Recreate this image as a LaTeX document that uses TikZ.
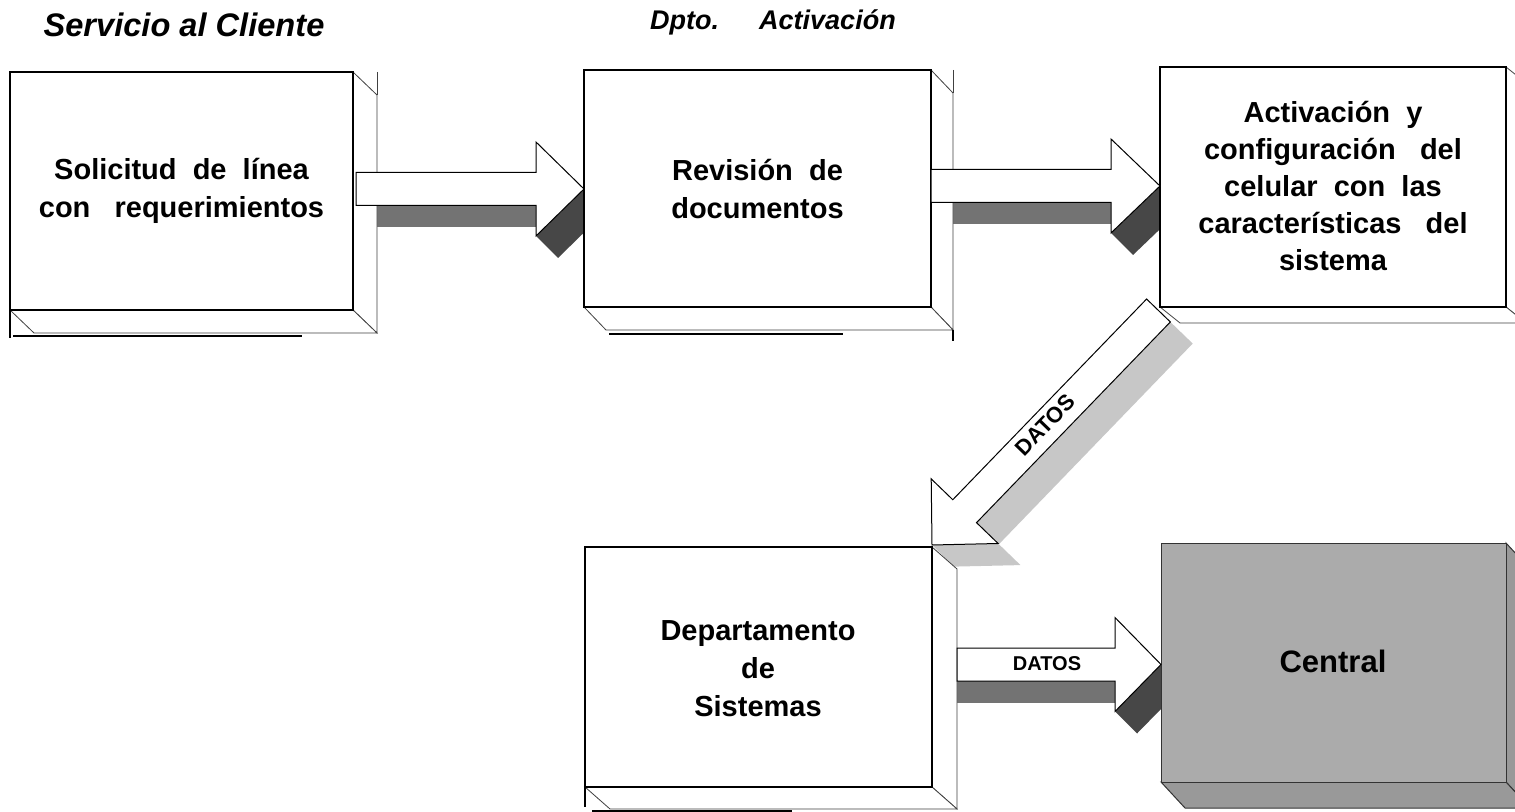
\documentclass[tikz,border=0pt]{standalone}
\usepackage{fontspec}
\setmainfont{Liberation Sans}

\begin{document}
\begin{tikzpicture}[x=0.5pt,y=-0.5pt,
		slabfront/.style={draw=black,line width=1pt,fill=white},
		slabside/.style={draw=black!75,line width=0.4pt,fill=white},
		rim/.style={line width=1.4pt},
		arrowface/.style={draw=black,line width=0.5pt,fill=white},
		stripfill/.style={fill=black!55},
		headfill/.style={fill=black!72},
		diagfill/.style={fill=black!22},
		centralfill/.style={fill=black!33,draw=black!80,line width=0.5pt},
		boxtext/.style={font=\bfseries\fontsize{14.5}{19}\selectfont,align=center},
		headtext/.style={font=\bfseries\itshape\fontsize{16.3}{20}\selectfont}]
			\useasboundingbox (0,0) rectangle (1515,812);
			% shading of the block arrows
			\foreach \xa/\xb/\xt/\yc in {356/536/584/189, 931/1111/1160/186, 957/1115/1161/664.5}{
				\fill[stripfill] (\xa,\yc+16.5) rectangle (\xb,\yc+38.5);
				\fill[headfill] (\xb,\yc+47) -- (\xt,\yc) -- (\xt+22,\yc+22) -- (\xb+22,\yc+69) -- cycle;
			}
			\begin{scope}[shift={(932,545)},rotate=46]
				\fill[diagfill] (47,16.5) -- (326,16.5) -- (326,47.6) -- (47,47.6) -- cycle;
				\fill[diagfill] (47,46.5) -- (0,0) -- (0,31.1) -- (47,77.6) -- cycle;
			\end{scope}
			% Solicitud
			\draw[slabside] (353,72) -- (377,95) -- (377,333) -- (353,310) -- cycle;
			\draw[slabside] (10,310) -- (34,333) -- (377,333) -- (353,310) -- cycle;
			\draw[slabfront] (10,72) rectangle (353,310);
			\draw[rim] (10,310) -- (10,338);
			\draw[rim] (13,336) -- (302,336);
			\draw[slabside] (377,72) -- (377,95);
			% Revision
			\draw[slabside] (931,70) -- (953,93) -- (953,330) -- (931,307) -- cycle;
			\draw[slabside] (584,307) -- (606,330) -- (953,330) -- (931,307) -- cycle;
			\draw[slabfront] (584,70) rectangle (931,307);
			\draw[rim] (609,334) -- (843,334);
			\draw[slabside] (953,70) -- (953,93);
			\draw[rim] (953,330) -- (953,341);
			% Activacion
			\draw[slabside] (1506,67) -- (1526,83) -- (1526,323) -- (1506,307) -- cycle;
			\draw[slabside] (1160,307) -- (1180,323) -- (1526,323) -- (1506,307) -- cycle;
			\draw[slabfront] (1160,67) rectangle (1506,307);
			% Departamento de Sistemas
			\draw[slabside] (932,547) -- (957,569) -- (957,809) -- (932,787) -- cycle;
			\draw[slabside] (585,787) -- (610,809) -- (957,809) -- (932,787) -- cycle;
			\draw[slabfront] (585,547) rectangle (932,787);
			\draw[rim] (585,787) -- (585,807);
			\draw[rim] (592,811) -- (792,811);
			% Central
			\draw[centralfill,fill=black!40] (1506,543) -- (1530,569) -- (1530,808) -- (1506,782) -- cycle;
			\draw[centralfill,fill=black!40] (1161,782) -- (1185,808) -- (1530,808) -- (1506,782) -- cycle;
			\draw[centralfill] (1161,543) rectangle (1506,782);
			% block arrows
			\foreach \xa/\xb/\xt/\yc in {356/536/584/189, 931/1111/1160/186, 957/1115/1161/664.5}{
				\draw[arrowface] (\xa,\yc-16.5) -- (\xb,\yc-16.5) -- (\xb,\yc-47) -- (\xt,\yc) -- (\xb,\yc+47) -- (\xb,\yc+16.5) -- (\xa,\yc+16.5) -- cycle;
			}
			\begin{scope}[shift={(932,545)},rotate=46]
				\draw[arrowface] (0,0) -- (47,-46.5) -- (47,-16.5) -- (326,-16.5) -- (326,16.5) -- (47,16.5) -- (47,46.5) -- cycle;
			\end{scope}
			% texts
			\node[headtext] (servicio) at (184,25) {Servicio al Cliente};
			\node[font=\bfseries\itshape\fontsize{13.5}{16}\selectfont] (dpto) at (773,22) {Dpto.\hspace{20pt}Activación};
			\node[boxtext] (solicitud) at (181.5,191) {Solicitud~~de~~línea\\con~~~requerimientos};
			\node[boxtext] (revision) at (757.5,189) {Revisión~~de\\documentos};
			\node[boxtext,font=\bfseries\fontsize{14.5}{18.5}\selectfont] (activacion) at (1333,186) {Activación~~y\\configuración~~~del\\celular~~con~~las\\características~~~del\\sistema};
			\node[boxtext] (sistemas) at (758,669) {Departamento\\de\\Sistemas};
			\node[font=\bfseries\fontsize{15.5}{18}\selectfont] (central) at (1333,661) {Central};
			\node[font=\bfseries\fontsize{10}{12}\selectfont] (datosA) at (1047,664) {DATOS};
			\node[font=\bfseries\fontsize{11}{13}\selectfont,rotate=46] (datosB) at (1045,425) {DATOS};
		\end{tikzpicture}
\end{document}
